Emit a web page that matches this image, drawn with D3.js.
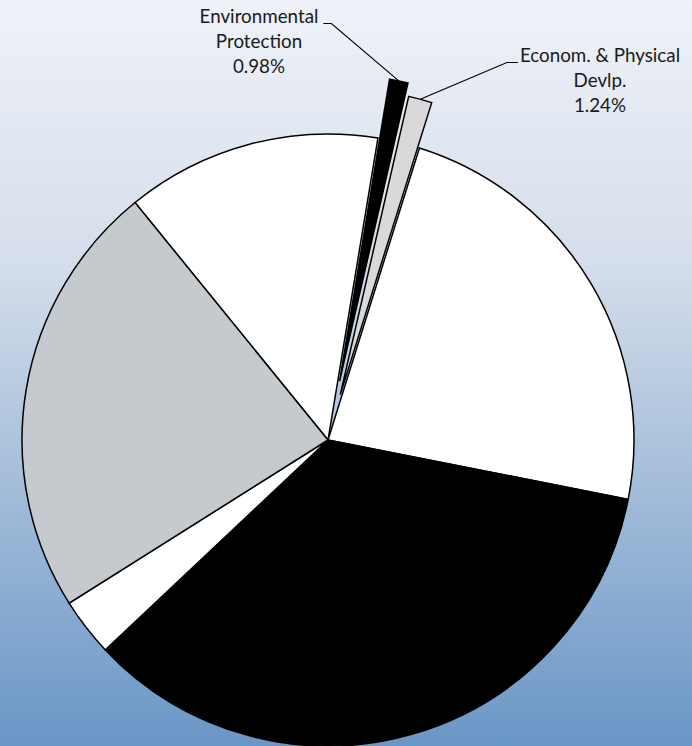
<!DOCTYPE html>
<html>
<head>
<meta charset="utf-8">
<script src="https://cdn.jsdelivr.net/npm/d3@7"></script>
<style>
  html, body { margin: 0; padding: 0; }
  svg { display: block; }
</style>
</head>
<body>
<svg id="chart" width="692" height="746"></svg>
<script>
// Budget shares (percent), drawn clockwise from the upper-left slice
const categories = ["A", "Environmental Protection", "Econom. & Physical Devlp.", "B", "C", "D", "E"];
const values = [13.47, 0.98, 1.24, 23.28, 34.86, 3.08, 23.09];
const fills = ["#ffffff", "#000000", "#d9d9d9", "#ffffff", "#000000", "#ffffff", "#c4cace"];
const explode = [0, 60, 47, 0, 0, 0, 0];
// Callout text for the labelled slices (index -> lines)
const labelIndex = [1, 2];
const labelLines = [["Environmental", "Protection", "0.98%"], ["Econom. & Physical", "Devlp.", "1.24%"]];

const W = 692, H = 746;
const cx = 328, cy = 440, R = 306;
const svg = d3.select("#chart");

const defs = svg.append("defs");
const grad = defs.append("linearGradient")
  .attr("id", "bg").attr("x1", 0).attr("y1", 0).attr("x2", 0).attr("y2", 1);
grad.append("stop").attr("offset", "0%").attr("stop-color", "#eff2f8");
grad.append("stop").attr("offset", "35%").attr("stop-color", "#d5deeb");
grad.append("stop").attr("offset", "100%").attr("stop-color", "#6a96c6");
svg.append("rect").attr("width", W).attr("height", H).attr("fill", "url(#bg)");

const start = -39.1 * Math.PI / 180;
const pie = d3.pie().sort(null).value(d => d)
  .startAngle(start).endAngle(start + 2 * Math.PI);
const arcs = pie(values);
const arc = d3.arc().innerRadius(0).outerRadius(R);

const g = svg.append("g").attr("transform", `translate(${cx},${cy})`);

g.selectAll("path.slice")
  .data(arcs)
  .join("path")
  .attr("class", "slice")
  .attr("transform", (d, i) => {
    const m = (d.startAngle + d.endAngle) / 2;
    return `translate(${explode[i] * Math.sin(m)},${-explode[i] * Math.cos(m)})`;
  })
  .attr("d", arc)
  .attr("fill", (d, i) => fills[i])
  .attr("stroke", "#000")
  .attr("stroke-width", 1.5)
  .attr("stroke-linejoin", "miter");

// Callouts
const labelPos = [
  { x: 259, y: 23, side: "right" },
  { x: 600, y: 62, side: "left" }
];
const font = "Lato, sans-serif";

labelIndex.forEach((idx, k) => {
  const d = arcs[idx];
  const m = (d.startAngle + d.endAngle) / 2;
  const rr = R + explode[idx];
  const px = cx + rr * Math.sin(m), py = cy - rr * Math.cos(m);
  const pos = labelPos[k];
  const t = svg.append("text")
    .attr("text-anchor", "middle")
    .attr("font-family", font)
    .attr("font-size", 18.8)
    .attr("fill", "#1a1a1a");
  labelLines[k].forEach((line, j) => {
    t.append("tspan").attr("x", pos.x).attr("y", pos.y + j * 25).text(line);
  });
  const firstW = t.select("tspan").node().getComputedTextLength();
  const ly = pos.y + 0.5;
  let pts;
  if (pos.side === "right") {
    const x0 = pos.x + firstW / 2 + 5;
    pts = [[x0, ly], [x0 + 8, ly], [px, py]];
  } else {
    const x0 = pos.x - firstW / 2 - 2;
    pts = [[x0, ly], [x0 - 11, ly], [px, py]];
  }
  svg.append("path")
    .attr("d", d3.line()(pts))
    .attr("fill", "none")
    .attr("stroke", "#000")
    .attr("stroke-width", 1.2);
});
</script>
</body>
</html>
